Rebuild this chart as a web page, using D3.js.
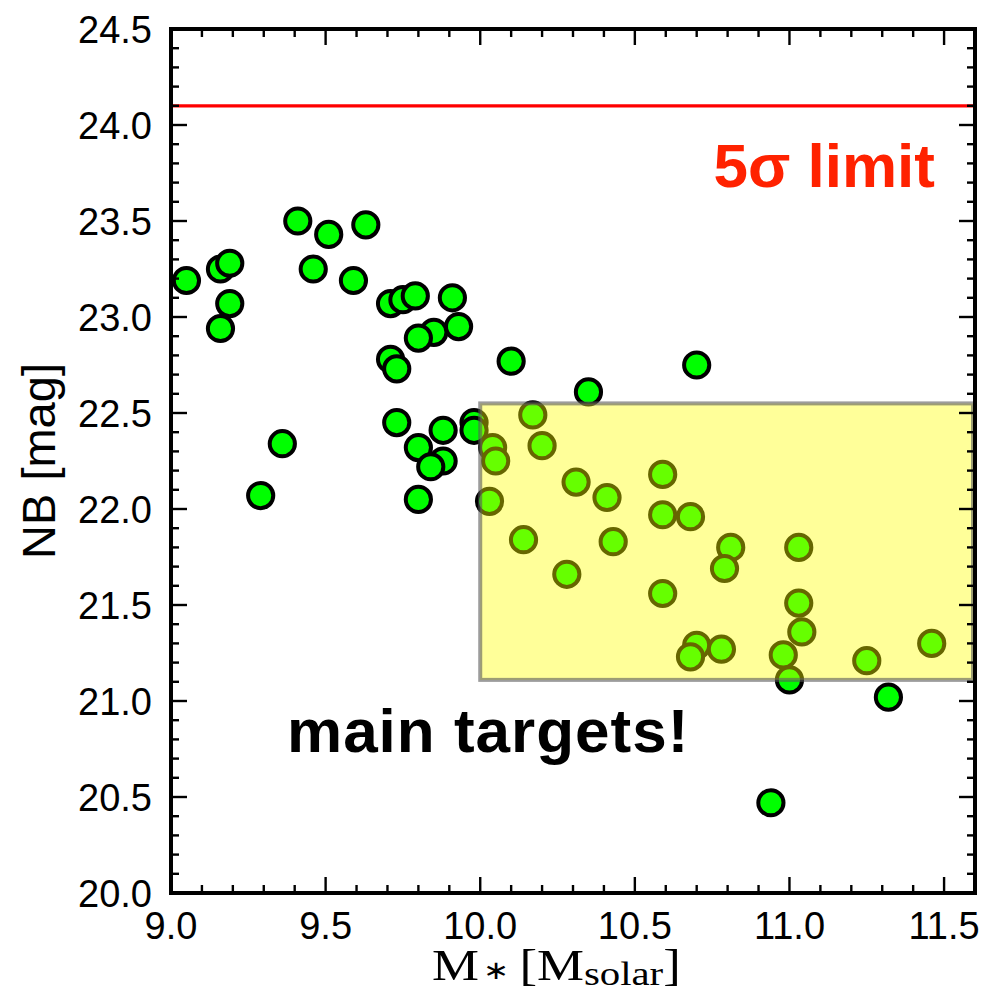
<!DOCTYPE html>
<html>
<head>
<meta charset="utf-8">
<script src="https://cdn.jsdelivr.net/npm/d3@7/dist/d3.min.js"></script>
<style>
  html, body { margin: 0; padding: 0; background: #fff; }
  svg { display: block; }
</style>
</head>
<body>
<svg id="chart" width="988" height="992"></svg>
<script>
// ---- data ----
const stellarMass = [
  9.05, 9.16, 9.19, 9.19, 9.16, 9.41, 9.51, 9.63, 9.46, 9.59,
  9.71, 9.75, 9.79, 9.91, 9.93, 9.85, 9.80, 9.71, 9.73, 9.73,
  9.36, 9.29, 9.80, 9.88, 9.88, 9.84, 9.80, 9.98, 9.98, 10.10,
  10.70, 10.35, 10.17, 10.04, 10.05, 10.20, 10.03, 10.31, 10.41, 10.59,
  10.59, 10.68, 10.14, 10.43, 10.28, 10.59, 10.81, 10.79, 11.03, 11.03,
  11.04, 10.98, 11.00, 10.70, 10.68, 10.78, 11.25, 11.46, 11.32, 10.94
];
const nbMag = [
  23.19, 23.25, 23.28, 23.07, 22.94, 23.50, 23.43, 23.48, 23.25, 23.19,
  23.07, 23.09, 23.11, 23.10, 22.95, 22.92, 22.89, 22.78, 22.73, 22.45,
  22.34, 22.07, 22.32, 22.41, 22.25, 22.22, 22.05, 22.45, 22.41, 22.77,
  22.75, 22.61, 22.49, 22.32, 22.25, 22.33, 22.04, 22.14, 22.06, 22.18,
  21.97, 21.96, 21.84, 21.83, 21.66, 21.56, 21.80, 21.69, 21.80, 21.51,
  21.36, 21.24, 21.11, 21.29, 21.23, 21.27, 21.21, 21.30, 21.02, 20.47
];
const xTickLabels = ["9.0", "9.5", "10.0", "10.5", "11.0", "11.5"];
const yTickLabels = ["20.0", "20.5", "21.0", "21.5", "22.0", "22.5", "23.0", "23.5", "24.0", "24.5"];
const xDomain = [9.0, 11.6];
const yDomain = [20.0, 24.5];
const limitMag = 24.1;
const targetBox = { x0: 10.0, x1: 11.6, y0: 21.11, y1: 22.55 };
const limitLabel = "5σ limit";
const targetLabel = "main targets!";

// ---- layout ----
const svg = d3.select("#chart");
const L = 171, R = 975, T = 29, B = 893;
const x = d3.scaleLinear().domain(xDomain).range([L, R]);
const y = d3.scaleLinear().domain(yDomain).range([B, T]);
const tickFont = "'Liberation Sans', Arial, Helvetica, sans-serif";

// points
const pts = stellarMass.map((m, i) => ({ m, nb: nbMag[i] }));
svg.append("g").selectAll("circle").data(pts).join("circle")
  .attr("cx", d => x(d.m)).attr("cy", d => y(d.nb)).attr("r", 12.6)
  .attr("fill", "#00ff00").attr("stroke", "#000").attr("stroke-width", 4);

// translucent target box on top of points
svg.append("rect")
  .attr("x", x(targetBox.x0)).attr("y", y(targetBox.y1))
  .attr("width", x(targetBox.x1) - x(targetBox.x0) - 2)
  .attr("height", y(targetBox.y0) - y(targetBox.y1))
  .attr("fill", "rgb(255,255,0)").attr("fill-opacity", 0.4)
  .attr("stroke", "rgb(90,90,90)").attr("stroke-opacity", 0.6).attr("stroke-width", 4);

// 5 sigma line
svg.append("line")
  .attr("x1", L).attr("x2", R).attr("y1", y(limitMag)).attr("y2", y(limitMag))
  .attr("stroke", "#ff0000").attr("stroke-width", 3.2);

// ticks (inward, on all four sides)
const minorX = d3.range(90, 116).map(v => v / 10);
const minorY = d3.range(200, 246).map(v => v / 10);
const isMajor = v => Math.abs(v * 2 - Math.round(v * 2)) < 1e-6;
const axG = svg.append("g").attr("stroke", "#000").attr("stroke-width", 2.4);
minorX.forEach(v => {
  const len = isMajor(v) ? 16 : 8;
  axG.append("line").attr("x1", x(v)).attr("x2", x(v)).attr("y1", B).attr("y2", B - len);
  axG.append("line").attr("x1", x(v)).attr("x2", x(v)).attr("y1", T).attr("y2", T + len);
});
minorY.forEach(v => {
  const len = isMajor(v) ? 16 : 8;
  axG.append("line").attr("y1", y(v)).attr("y2", y(v)).attr("x1", L).attr("x2", L + len);
  axG.append("line").attr("y1", y(v)).attr("y2", y(v)).attr("x1", R).attr("x2", R - len);
});

// frame
svg.append("rect").attr("x", L).attr("y", T).attr("width", R - L).attr("height", B - T)
  .attr("fill", "none").attr("stroke", "#000").attr("stroke-width", 4);

// tick labels
svg.append("g").selectAll("text").data(xTickLabels).join("text")
  .attr("x", d => x(+d)).attr("y", 939)
  .attr("text-anchor", "middle")
  .attr("font-family", tickFont).attr("font-size", 38).attr("fill", "#000")
  .text(d => d);
svg.append("g").selectAll("text").data(yTickLabels).join("text")
  .attr("x", 152).attr("y", d => y(+d)).attr("dy", "0.36em")
  .attr("text-anchor", "end")
  .attr("font-family", tickFont).attr("font-size", 38).attr("fill", "#000")
  .text(d => d);

// axis titles
svg.append("text")
  .attr("transform", "translate(55,461) rotate(-90)")
  .attr("text-anchor", "middle")
  .attr("font-family", tickFont).attr("font-size", 47).attr("fill", "#000")
  .text("NB [mag]");

const xt = svg.append("text")
  .attr("transform", "translate(432,980) scale(1.2,1)")
  .attr("font-family", "'Liberation Serif', 'Times New Roman', serif")
  .attr("font-size", 44).attr("fill", "#000");
xt.append("tspan").text("M");
xt.append("tspan").attr("font-size", 26).attr("dx", 3).attr("dy", -1).text("∗");
xt.append("tspan").attr("font-size", 44).attr("dx", 9).attr("dy", 1).text("[M");
xt.append("tspan").attr("font-size", 34).attr("dy", 5).text("solar");
xt.append("tspan").attr("font-size", 44).attr("dy", -5).text("]");

// annotations
svg.append("text")
  .attr("x", 935).attr("y", 187).attr("text-anchor", "end")
  .attr("font-family", tickFont).attr("font-weight", "bold").attr("font-size", 62)
  .attr("fill", "#ff2200").text(limitLabel);
svg.append("text")
  .attr("x", 287).attr("y", 752)
  .attr("font-family", tickFont).attr("font-weight", "bold").attr("font-size", 62)
  .attr("letter-spacing", 1)
  .attr("fill", "#000").text(targetLabel);
</script>
</body>
</html>
